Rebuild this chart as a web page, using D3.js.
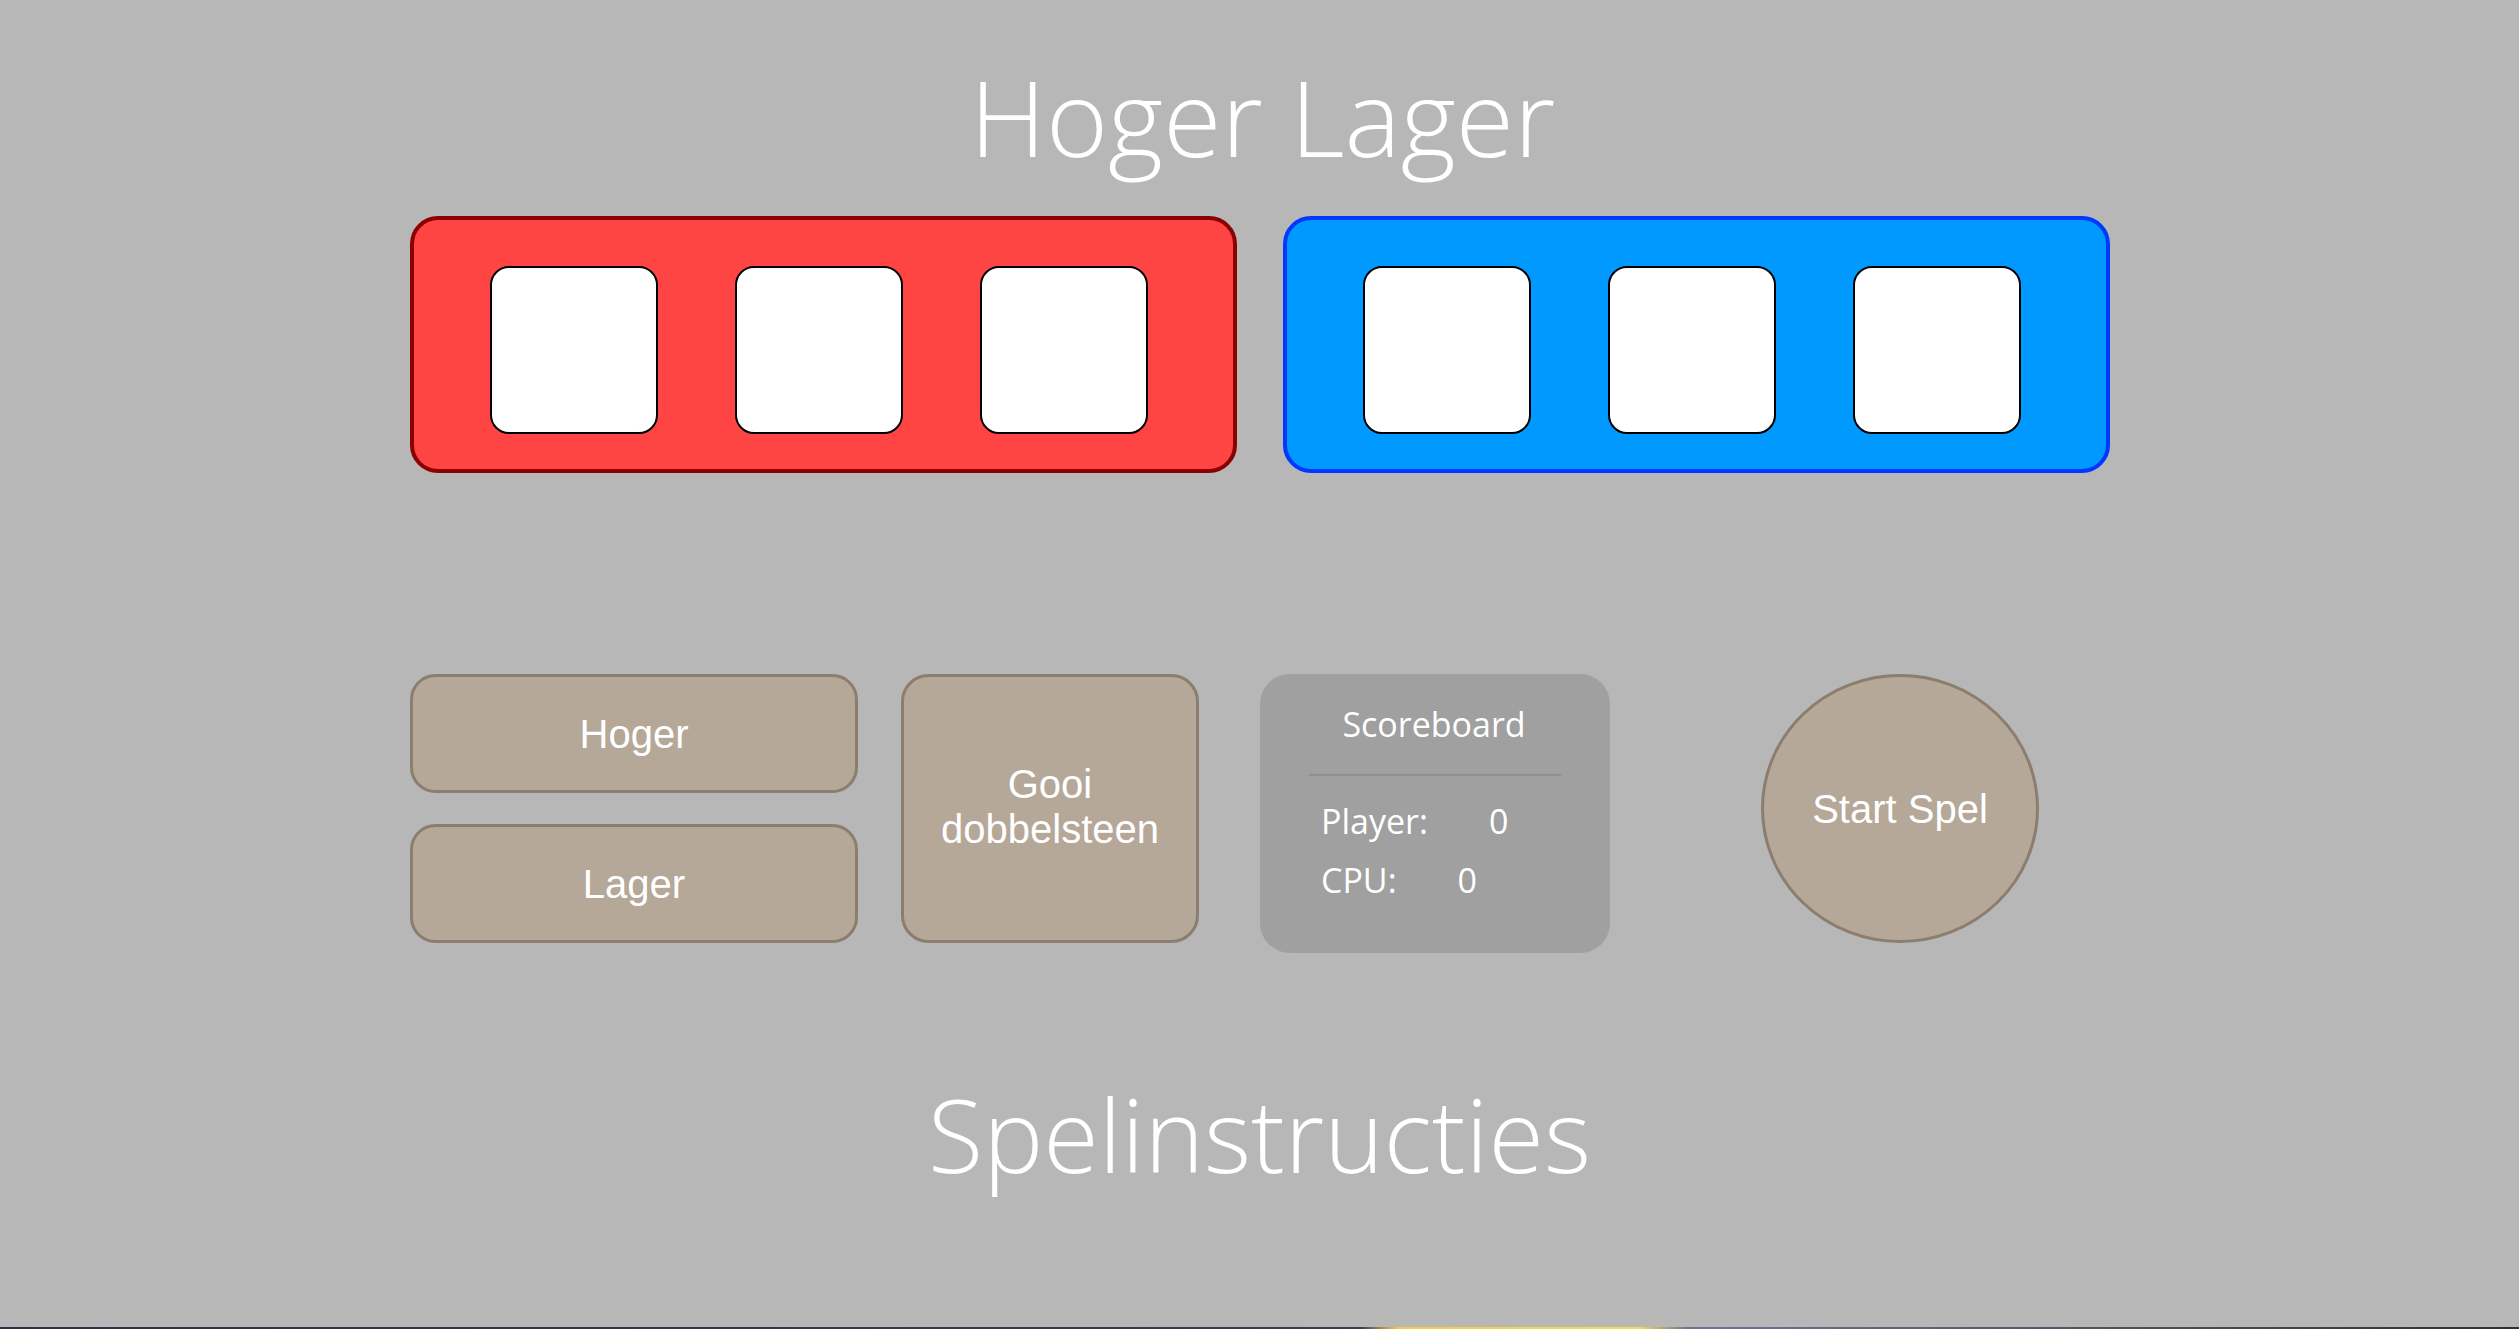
<!DOCTYPE html>
<html>
<head>
<meta charset="utf-8">
<script src="https://cdn.jsdelivr.net/npm/d3@7"></script>
<style>
  html, body { margin: 0; padding: 0; background: #b7b7b7; overflow: hidden; }
  svg { display: block; }
  .title { font-family: "Open Sans", sans-serif; font-weight: 300; fill: #fff; }
  .score { font-family: "Open Sans", sans-serif; font-weight: 400; fill: #fff; }
  .btn-label { font-family: "Liberation Sans", Arial, sans-serif; fill: #fff; }
</style>
</head>
<body>
<div id="game"></div>
<script>
// page content
const titleText = "Hoger Lager";
const footerText = "Spelinstructies";
const players = ["player", "cpu"];
const diceSlots = [1, 2, 3];
const choiceButtons = ["Hoger", "Lager"];
const rollLabel = ["Gooi", "dobbelsteen"];
const scoreTitle = "Scoreboard";
const scoreLabels = ["Player:", "CPU:"];
const scoreValues = [0, 0];
const startLabel = "Start Spel";

const width = 2519, height = 1329;

const panelColor = d3.scaleOrdinal().domain(players).range(["#ff4444", "#0099ff"]);
const panelStroke = d3.scaleOrdinal().domain(players).range(["#8b0000", "#0038ff"]);

const svg = d3.select("#game").append("svg")
  .attr("width", width)
  .attr("height", height);

svg.append("rect")
  .attr("width", width).attr("height", height)
  .attr("fill", "#b7b7b7");

// strip of the page background image peeking at the bottom
const grad = svg.append("defs").append("linearGradient").attr("id", "strip");
[["0", "#2b3148"], ["0.54", "#3a3c50"], ["0.555", "#f3c94a"], ["0.65", "#f6dc55"], ["0.67", "#6f7590"], ["1", "#3a2a36"]]
  .forEach(s => grad.append("stop").attr("offset", s[0]).attr("stop-color", s[1]));
svg.append("rect")
  .attr("y", height - 2).attr("width", width).attr("height", 2)
  .attr("fill", "url(#strip)");

// title
svg.append("text")
  .attr("class", "title")
  .attr("x", width / 2 + 3)
  .attr("y", 157)
  .attr("text-anchor", "middle")
  .attr("font-size", 106)
  .text(titleText);

// dice panels
const panelX = d3.scaleBand()
  .domain(players)
  .range([410, 2110])
  .paddingInner(46 / 873);

const panelTop = 216, panelH = 257;

const slotX = d3.scaleBand()
  .domain(diceSlots)
  .range([80, 738])
  .paddingInner(77 / 245);

const panels = svg.selectAll("g.panel")
  .data(players)
  .join("g")
  .attr("class", "panel")
  .attr("transform", d => `translate(${panelX(d)},${panelTop})`);

panels.append("rect")
  .attr("x", 2).attr("y", 2)
  .attr("width", panelX.bandwidth() - 4)
  .attr("height", panelH - 4)
  .attr("rx", 26)
  .attr("fill", d => panelColor(d))
  .attr("stroke", d => panelStroke(d))
  .attr("stroke-width", 4);

panels.selectAll("rect.die")
  .data(diceSlots)
  .join("rect")
  .attr("class", "die")
  .attr("x", d => slotX(d) + 1)
  .attr("y", 51)
  .attr("width", slotX.bandwidth() - 2)
  .attr("height", 166)
  .attr("rx", 18)
  .attr("fill", "#fff")
  .attr("stroke", "#000")
  .attr("stroke-width", 2);

// hoger / lager buttons
const choiceY = d3.scaleBand()
  .domain(choiceButtons)
  .range([674, 943])
  .paddingInner(31 / 150);

const btnFill = "#b5a898", btnStroke = "#8b7e6e";

const choices = svg.selectAll("g.choice")
  .data(choiceButtons)
  .join("g")
  .attr("class", "choice")
  .attr("transform", d => `translate(410,${choiceY(d)})`);

choices.append("rect")
  .attr("x", 1.5).attr("y", 1.5)
  .attr("width", 448 - 3)
  .attr("height", choiceY.bandwidth() - 3)
  .attr("rx", 24)
  .attr("fill", btnFill)
  .attr("stroke", btnStroke)
  .attr("stroke-width", 3);

choices.append("text")
  .attr("class", "btn-label")
  .attr("x", 224)
  .attr("y", choiceY.bandwidth() / 2 + 14)
  .attr("text-anchor", "middle")
  .attr("font-size", 40)
  .text(d => d);

// roll button
const roll = svg.append("g").attr("transform", "translate(901,674)");
roll.append("rect")
  .attr("x", 1.5).attr("y", 1.5)
  .attr("width", 298 - 3).attr("height", 269 - 3)
  .attr("rx", 26)
  .attr("fill", btnFill)
  .attr("stroke", btnStroke)
  .attr("stroke-width", 3);

const rollY = d3.scalePoint().domain(rollLabel).range([124, 169]);
roll.selectAll("text")
  .data(rollLabel)
  .join("text")
  .attr("class", "btn-label")
  .attr("x", 149)
  .attr("y", d => rollY(d))
  .attr("text-anchor", "middle")
  .attr("font-size", 40)
  .text(d => d);

// scoreboard
const board = svg.append("g").attr("transform", "translate(1260,674)");
board.append("rect")
  .attr("width", 350).attr("height", 279)
  .attr("rx", 30)
  .attr("fill", "#a0a0a0");

board.append("text")
  .attr("class", "score")
  .attr("x", 174)
  .attr("y", 63)
  .attr("text-anchor", "middle")
  .attr("font-size", 34)
  .text(scoreTitle);

board.append("line")
  .attr("x1", 49).attr("x2", 301)
  .attr("y1", 101).attr("y2", 101)
  .attr("stroke", "#909090")
  .attr("stroke-width", 2);

const scoreY = d3.scalePoint().domain(scoreLabels).range([160, 219]);

const rows = board.selectAll("g.row")
  .data(scoreLabels.map((l, i) => ({ label: l, value: scoreValues[i] })))
  .join("g")
  .attr("class", "row")
  .attr("transform", d => `translate(61,${scoreY(d.label)})`);

rows.append("text")
  .attr("class", "score label")
  .attr("font-size", 34)
  .text(d => d.label);

rows.append("text")
  .attr("class", "score")
  .attr("font-size", 34)
  .attr("x", function () {
    const lab = this.parentNode.querySelector("text.label");
    return lab.getComputedTextLength() + 61;
  })
  .text(d => d.value);

// start button
const start = svg.append("g").attr("transform", "translate(1900,808.5)");
start.append("ellipse")
  .attr("rx", 137.5).attr("ry", 133)
  .attr("fill", btnFill)
  .attr("stroke", btnStroke)
  .attr("stroke-width", 3);
start.append("text")
  .attr("class", "btn-label")
  .attr("y", 14)
  .attr("text-anchor", "middle")
  .attr("font-size", 40)
  .text(startLabel);

// instructions heading
svg.append("text")
  .attr("class", "title")
  .attr("x", width / 2)
  .attr("y", 1173)
  .attr("text-anchor", "middle")
  .attr("font-size", 101)
  .text(footerText);
</script>
</body>
</html>
